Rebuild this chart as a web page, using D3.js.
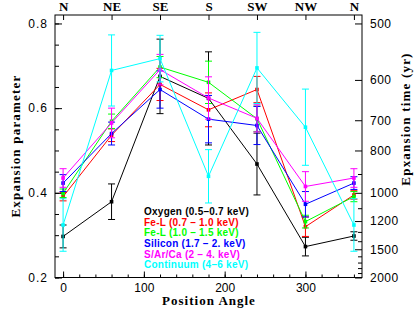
<!DOCTYPE html>
<html><head><meta charset="utf-8">
<script src="https://cdn.jsdelivr.net/npm/d3@7"></script>
<style>
body{margin:0;background:#fff;}
svg{display:block;}
</style></head>
<body>
<svg id="c" width="419" height="313"></svg>
<script>
// ---- data ----
const angles = [0, 60, 120, 180, 240, 300, 360];
const compass = ["N", "NE", "SE", "S", "SW", "NW", "N"];
const seriesNames = ["Oxygen (0.5\u20130.7 keV)", "Fe-L (0.7 \u2013 1.0 keV)", "Fe-L (1.0 \u2013 1.5 keV)",
  "Silicon (1.7 \u2013 2. keV)", "S/Ar/Ca (2 \u2013 4. keV)", "Continuum (4\u20136 keV)"];
const seriesColors = ["#000000", "#ff0000", "#00ff00", "#0000ff", "#ff00ff", "#00ffff"];
const oxygen    = [0.297, 0.379, 0.675, 0.623, 0.468, 0.273, 0.298];
const oxygenErr = [0.027, 0.042, 0.088, 0.110, 0.073, 0.022, 0.010];
const feL1      = [0.391, 0.536, 0.656, 0.596, 0.644, 0.320, 0.395];
const feL1Err   = [0.010, 0.015, 0.038, 0.040, 0.031, 0.023, 0.010];
const feL2      = [0.399, 0.569, 0.697, 0.661, 0.575, 0.332, 0.391];
const feL2Err   = [0.010, 0.017, 0.025, 0.050, 0.030, 0.015, 0.012];
const silicon   = [0.423, 0.540, 0.644, 0.574, 0.559, 0.373, 0.423];
const siliconErr= [0.020, 0.027, 0.044, 0.056, 0.045, 0.030, 0.015];
const sArCa     = [0.435, 0.565, 0.691, 0.624, 0.576, 0.415, 0.435];
const sArCaErr  = [0.022, 0.035, 0.036, 0.050, 0.032, 0.035, 0.022];
const contin    = [0.324, 0.689, 0.717, 0.439, 0.695, 0.555, 0.324];
const continErr = [0.062, 0.084, 0.055, 0.063, 0.084, 0.090, 0.062];
const leftTicks = [0.2, 0.4, 0.6, 0.8];
const leftMinor = d3.range(0.2, 0.8201, 0.05);
const bottomTicks = [0, 100, 200, 300];
const bottomMinor = d3.range(0, 361, 20);
const timeTicks = [500, 600, 700, 800, 1000, 1200, 1500, 2000];
const timeMinor = [900, 1100, 1300, 1400, 1600, 1700, 1800, 1900];
const age = 400;

const values = [oxygen, feL1, feL2, silicon, sArCa, contin];
const errs = [oxygenErr, feL1Err, feL2Err, siliconErr, sArCaErr, continErr];

// ---- layout ----
const L = 55, R = 362, T = 15, B = 277.5;
const svg = d3.select("#c");
const x = d3.scaleLinear().domain([-10, 370]).range([L, R]);
const y = d3.scaleLinear().domain([0.2, 0.82]).range([B, T]);
const yt = d3.scalePow().exponent(-1).domain([age / 0.2, age / 0.82]).range([B, T]);

const tickFont = "'Liberation Sans', Arial, sans-serif";

function styleAxis(g) {
  g.select(".domain").remove();
  g.selectAll(".tick line").attr("stroke", "#000").attr("stroke-width", 1);
  g.selectAll("text").attr("fill", "#000");
}

// left axis
svg.append("g").attr("transform", `translate(${L},0)`)
  .call(d3.axisLeft(y).tickValues(leftMinor).tickSize(-4).tickFormat("")).call(styleAxis);
svg.append("g").attr("transform", `translate(${L},0)`)
  .call(d3.axisLeft(y).tickValues(leftTicks).tickSize(-7).tickPadding(7).tickFormat(d3.format(".1f")))
  .call(styleAxis)
  .selectAll("text").style("font-family", tickFont).style("font-size", "12px").style("letter-spacing", "1px");

// bottom axis
svg.append("g").attr("transform", `translate(0,${B})`)
  .call(d3.axisBottom(x).tickValues(bottomMinor).tickSize(-3).tickFormat("")).call(styleAxis);
svg.append("g").attr("transform", `translate(0,${B})`)
  .call(d3.axisBottom(x).tickValues(bottomTicks).tickSize(-6).tickPadding(5.5).tickFormat(d3.format("d")))
  .call(styleAxis)
  .selectAll("text").style("font-family", tickFont).style("font-size", "12px");

// top axis
svg.append("g").attr("transform", `translate(0,${T})`)
  .call(d3.axisTop(x).tickValues(angles).tickSize(-5).tickPadding(4.5).tickFormat((d, i) => compass[i]))
  .call(styleAxis)
  .selectAll("text").style("font-family", "'Liberation Serif', 'Times New Roman', serif")
  .style("font-size", "13px").style("font-weight", "bold");

// right axis (expansion time)
svg.append("g").attr("transform", `translate(${R},0)`)
  .call(d3.axisRight(yt).tickValues(timeMinor).tickSize(-4).tickFormat("")).call(styleAxis);
svg.append("g").attr("transform", `translate(${R},0)`)
  .call(d3.axisRight(yt).tickValues(timeTicks).tickSize(-7).tickPadding(8).tickFormat(d3.format("d")))
  .call(styleAxis)
  .selectAll("text").style("font-family", tickFont).style("font-size", "12px").style("letter-spacing", "0.5px");

// frame
svg.append("rect").attr("x", L).attr("y", T).attr("width", R - L).attr("height", B - T)
  .attr("fill", "none").attr("stroke", "#000").attr("stroke-width", 1);

// series
const line = d3.line().x((d, i) => x(angles[i])).y(d => y(d));
values.forEach((vals, s) => {
  const col = seriesColors[s];
  const g = svg.append("g");
  g.append("path").attr("d", line(vals)).attr("fill", "none").attr("stroke", col).attr("stroke-width", 1);
  vals.forEach((v, i) => {
    const cx = x(angles[i]);
    const e = errs[s][i];
    g.append("line").attr("x1", cx).attr("x2", cx).attr("y1", y(v - e)).attr("y2", y(v + e))
      .attr("stroke", col).attr("stroke-width", 1);
    [v - e, v + e].forEach(w => {
      g.append("line").attr("x1", cx - 3.5).attr("x2", cx + 3.5).attr("y1", y(w)).attr("y2", y(w))
        .attr("stroke", col).attr("stroke-width", 1);
    });
    g.append("rect").attr("x", cx - 1.8).attr("y", y(v) - 1.8).attr("width", 3.6).attr("height", 3.6)
      .attr("fill", col);
  });
});

// legend
const legBase = [215, 225.7, 236.3, 247, 257.7, 268.3];
seriesNames.forEach((name, s) => {
  svg.append("text").attr("x", 144).attr("y", legBase[s]).text(name)
    .attr("fill", seriesColors[s])
    .style("font-family", tickFont).style("font-size", "10px").style("font-weight", "bold")
    .style("letter-spacing", "0.25px");
});

// axis titles
const titleFont = "'Liberation Serif', 'Times New Roman', serif";
svg.append("text").attr("x", 209).attr("y", 305).attr("text-anchor", "middle")
  .text("Position Angle").style("font-family", titleFont).style("font-size", "13px")
  .style("font-weight", "bold").style("letter-spacing", "1px");
svg.append("text").attr("transform", "translate(20,146) rotate(-90)").attr("text-anchor", "middle")
  .text("Expansion parameter").style("font-family", titleFont).style("font-size", "13px")
  .style("font-weight", "bold").style("letter-spacing", "1.2px");
svg.append("text").attr("transform", "translate(410,119) rotate(-90)").attr("text-anchor", "middle")
  .text("Epxansion time (yr)").style("font-family", titleFont).style("font-size", "13px")
  .style("font-weight", "bold").style("letter-spacing", "1.2px");
</script>
</body></html>
